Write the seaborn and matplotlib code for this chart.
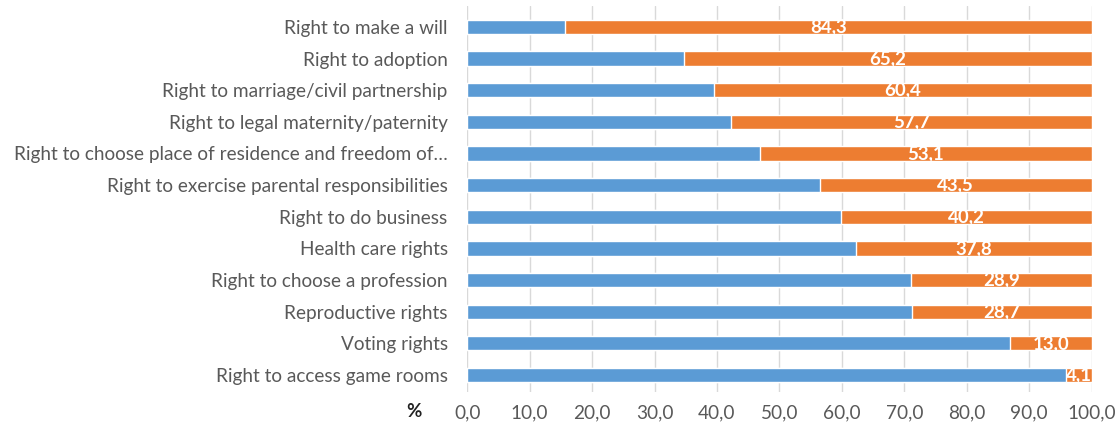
import matplotlib
matplotlib.use("Agg")
import matplotlib.pyplot as plt
import seaborn as sns
import pandas as pd

categories = [
    "Right to make a will",
    "Right to adoption",
    "Right to marriage/civil partnership",
    "Right to legal maternity/paternity",
    "Right to choose place of residence and freedom of…",
    "Right to exercise parental responsibilities",
    "Right to do business",
    "Health care rights",
    "Right to choose a profession",
    "Reproductive rights",
    "Voting rights",
    "Right to access game rooms",
]
orange_vals = [84.3, 65.2, 60.4, 57.7, 53.1, 43.5, 40.2, 37.8, 28.9, 28.7, 13.0, 4.1]
blue_vals = [15.7, 34.8, 39.6, 42.3, 46.9, 56.5, 59.8, 62.2, 71.1, 71.3, 87.0, 95.9]
xticks = [0, 10, 20, 30, 40, 50, 60, 70, 80, 90, 100]

df = pd.DataFrame({"cat": categories, "blue": blue_vals, "orange": orange_vals})
df["total"] = df["blue"] + df["orange"]

sns.set_theme(style="white")
plt.rcParams["font.family"] = ["Lato", "DejaVu Sans"]

fig = plt.figure(figsize=(11.15, 4.26), dpi=100)
ax = fig.add_axes([0.419, 0.079, 0.560, 0.906])

BLUE = "#5B9BD5"
ORANGE = "#ED7D31"

sns.barplot(data=df, x="total", y="cat", color=ORANGE, width=0.45, ax=ax,
            saturation=1, orient="h", zorder=3)
sns.barplot(data=df, x="blue", y="cat", color=BLUE, width=0.45, ax=ax,
            saturation=1, orient="h", zorder=4)

for i, (b, o) in enumerate(zip(blue_vals, orange_vals)):
    ax.text(b + o / 2, i, f"{o:.1f}".replace(".", ","), ha="center", va="center",
            color="white", fontsize=13.5, fontweight="bold", zorder=5)

ax.set_xlim(0, 100)
ax.set_ylim(11.55, -0.65)
ax.set_xticks(xticks)
ax.set_xticklabels([f"{t:.1f}".replace(".", ",") for t in xticks])
ax.set_xlabel("")
ax.set_ylabel("")
ax.grid(axis="x", color="#D9D9D9", linewidth=1, zorder=0)
ax.grid(axis="y", visible=False)
for s in ax.spines.values():
    s.set_visible(False)
ax.tick_params(axis="both", length=0, labelsize=13.7, labelcolor="#595959")
ax.tick_params(axis="y", pad=14)
ax.tick_params(axis="x", pad=9)

fig.text(0.371, 0.035, "%", fontsize=13.5, fontweight="bold", color="#222222",
         ha="center", va="center")

fig.savefig("out.png", dpi=100)
